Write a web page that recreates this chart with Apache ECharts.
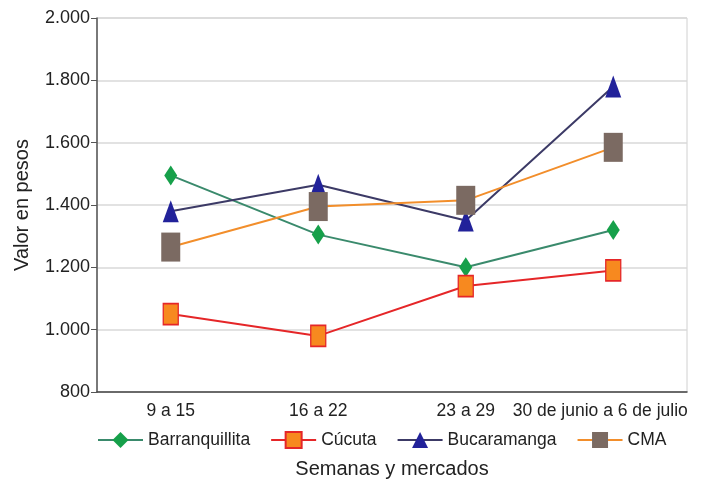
<!DOCTYPE html>
<html><head><meta charset="utf-8">
<script src="https://cdn.jsdelivr.net/npm/echarts@6/dist/echarts.min.js"></script>
<style>html,body{margin:0;padding:0;background:#fff}#c{width:702px;height:484px}</style>
</head><body><div id="c"></div>
<script>
const categories = ['9 a 15', '16 a 22', '23 a 29', '30 de junio a 6 de julio'];
const barranquillita = [1495, 1305, 1200, 1320];
const cucuta = [1050, 980, 1140, 1190];
const bucaramanga = [1380, 1465, 1350, 1780];
const cma = [1265, 1395, 1415, 1585];

const font = 'Liberation Sans, Arial, sans-serif';
const chart = echarts.init(document.getElementById('c'), null, {renderer: 'canvas'});
function fmt(v){ return String(v).replace(/\B(?=(\d{3})+(?!\d))/g, '.'); }
const xData = categories.map((c, i) => i === categories.length - 1
  ? {value: c, textStyle: {padding: [0, 26, 0, 0]}} : c);
chart.setOption({
  animation: false,
  textStyle: {fontFamily: font},
  grid: {left: 97, right: 15, top: 18, bottom: 90, show: true, borderColor: '#d0d0d0', borderWidth: 1},
  legend: {
    top: 431, left: 97, padding: 0, itemWidth: 45, itemHeight: 20, itemGap: 20,
    textStyle: {fontSize: 17.5, color: '#222', fontFamily: font},
    data: ['Barranquillita', 'Cúcuta', 'Bucaramanga', 'CMA']
  },
  xAxis: {
    type: 'category', data: xData, boundaryGap: true,
    name: 'Semanas y mercados', nameLocation: 'middle', nameGap: 67,
    nameTextStyle: {fontSize: 20, color: '#222', fontFamily: font},
    axisLine: {lineStyle: {color: '#444', width: 1.5}},
    axisTick: {alignWithLabel: true, length: 6, lineStyle: {color: '#444'}},
    axisLabel: {fontSize: 17.5, color: '#222', margin: 10, interval: 0, fontFamily: font}
  },
  yAxis: {
    type: 'value', min: 800, max: 2000, interval: 200,
    name: 'Valor en pesos', nameLocation: 'middle', nameGap: 65, nameRotate: 90,
    nameTextStyle: {fontSize: 20, color: '#222', fontFamily: font},
    axisLine: {show: true, lineStyle: {color: '#555', width: 1.5}},
    axisTick: {show: true, length: 6, lineStyle: {color: '#555'}},
    axisLabel: {fontSize: 18, color: '#222', margin: 7, formatter: fmt, fontFamily: font},
    splitLine: {lineStyle: {color: '#d8d8d8', width: 1.5}}
  },
  series: [
    {name: 'Barranquillita', type: 'line', data: barranquillita, symbol: 'diamond', symbolSize: [13, 20],
     lineStyle: {color: '#3a8a6c', width: 2}, itemStyle: {color: '#16a04a'}, z: 3},
    {name: 'Cúcuta', type: 'line', data: cucuta, symbol: 'rect', symbolSize: [15, 21],
     lineStyle: {color: '#e52628', width: 2}, itemStyle: {color: '#f7891f', borderColor: '#e52628', borderWidth: 1.5}, z: 3},
    {name: 'Bucaramanga', type: 'line', data: bucaramanga, symbol: 'triangle', symbolSize: [16, 22],
     lineStyle: {color: '#3c3a66', width: 2}, itemStyle: {color: '#22229a'}, z: 3},
    {name: 'CMA', type: 'line', data: cma, symbol: 'rect', symbolSize: [19, 29],
     lineStyle: {color: '#f28e2b', width: 2}, itemStyle: {color: '#7b6a62'}, z: 4}
  ]
});
</script></body></html>
